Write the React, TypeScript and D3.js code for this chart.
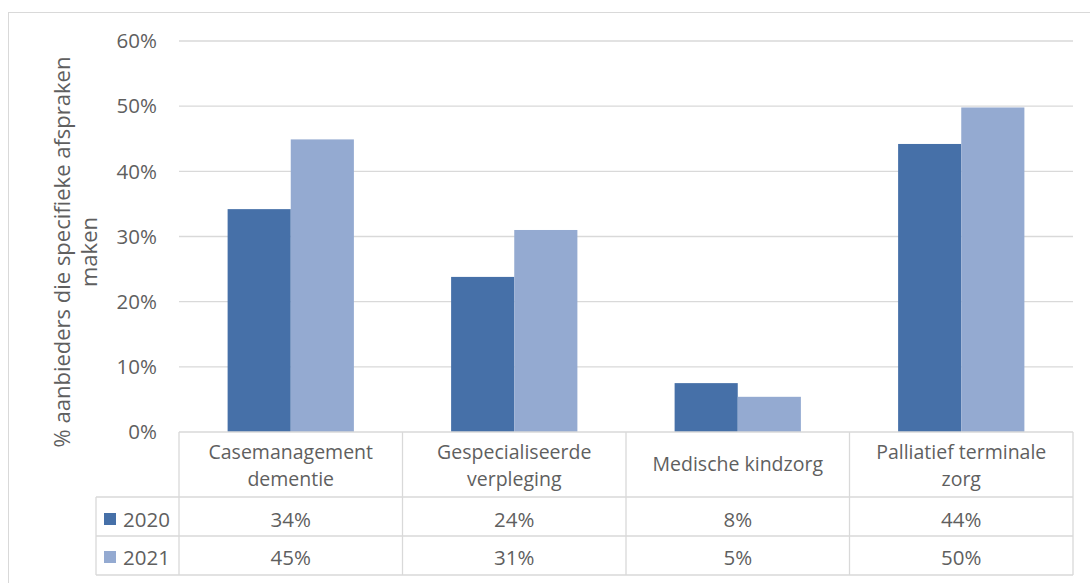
import React from 'react';
import * as d3 from 'd3';

// categories as shown in the table header (line breaks as in the source)
const categories = [
  'Casemanagement dementie',
  'Gespecialiseerde verpleging',
  'Medische kindzorg',
  'Palliatief terminale zorg',
];
const categoryLines = [
  ['Casemanagement', 'dementie'],
  ['Gespecialiseerde', 'verpleging'],
  ['Medische kindzorg'],
  ['Palliatief terminale', 'zorg'],
];
const years = ['2020', '2021'];
const values2020 = [34.2, 23.8, 7.5, 44.2];
const values2021 = [44.9, 31.0, 5.4, 49.8];
const yTicks = [0, 10, 20, 30, 40, 50, 60];
const axisTitle = ['% aanbieders die specifieke afspraken', 'maken'];

const colors = ['#4670a8', '#94aad1'];
const font = '"Open Sans", sans-serif';
const textColor = '#5f5f5f';
const lineColor = '#d9d9d9';

export default function App() {
  const W = 1090;
  const H = 583;
  const left = 179;
  const right = 1073;
  const zeroY = 432;
  const topY = 41;
  const tableLeft = 96;
  const rowLines = [zeroY, 497, 536, 575];
  const fs = 20.5;
  const headFs = 19.5;

  const series = [values2020, values2021];

  const y = d3.scaleLinear().domain([0, 60]).range([zeroY, topY]);
  const x0 = d3.scaleBand().domain(categories).range([left, right]).paddingInner(0).paddingOuter(0);
  const x1 = d3.scaleBand().domain(years).range([0, x0.bandwidth()]).paddingInner(0).paddingOuter(0.77);
  const fmt = (v: number) => `${Math.round(v)}%`;

  return (
    <svg width={W} height={H} style={{ position: 'absolute', left: 0, top: 0, background: '#fff' }}
      fontFamily={font}>
      <rect x={8.5} y={12.5} width={1100} height={600} fill="#fff" stroke="#d9d9d9" />

      {/* gridlines + tick labels */}
      {yTicks.map(t => (
        <g key={t}>
          {t > 0 && (
            <line x1={left} x2={right} y1={y(t)} y2={y(t)} stroke={lineColor} strokeWidth={1.3} />
          )}
          <text x={157} y={y(t)} dy="0.35em" textAnchor="end" fontSize={fs} fill={textColor}>
            {t}%
          </text>
        </g>
      ))}

      {/* bars */}
      {categories.map((c, i) => (
        <g key={c} transform={`translate(${x0(c)},0)`}>
          {years.map((yr, j) => (
            <rect key={yr} x={x1(yr)} y={y(series[j][i])} width={x1.bandwidth()}
              height={zeroY - y(series[j][i])} fill={colors[j]} />
          ))}
        </g>
      ))}

      {/* axis title */}
      <text transform="translate(70,252) rotate(-90)" textAnchor="middle" fontSize={22} fill={textColor}>
        <tspan x={0} y={0}>{axisTitle[0]}</tspan>
        <tspan x={0} y={27}>{axisTitle[1]}</tspan>
      </text>

      {/* data table */}
      <g stroke={lineColor} strokeWidth={1.3}>
        <line x1={left} x2={right} y1={rowLines[0]} y2={rowLines[0]} />
        {rowLines.slice(1).map(r => (
          <line key={r} x1={tableLeft} x2={right} y1={r} y2={r} />
        ))}
        <line x1={tableLeft} x2={tableLeft} y1={rowLines[1]} y2={rowLines[3]} />
        {categories.map(c => (
          <line key={c} x1={x0(c)} x2={x0(c)} y1={rowLines[0]} y2={rowLines[3]} />
        ))}
        <line x1={right} x2={right} y1={rowLines[0]} y2={rowLines[3]} />
      </g>

      {categories.map((c, i) => {
        const cx = (x0(c) as number) + x0.bandwidth() / 2;
        const lines = categoryLines[i];
        return lines.map((l, k) => (
          <text key={c + k} x={cx} y={lines.length === 1 ? 471 : 459 + k * 26.5} textAnchor="middle"
            fontSize={headFs} fill={textColor}>
            {l}
          </text>
        ));
      })}

      {years.map((yr, j) => {
        const base = [527, 565][j];
        return (
          <g key={yr}>
            <rect x={104} y={base - 14} width={12} height={12} fill={colors[j]} />
            <text x={123} y={base} fontSize={fs} fill={textColor}>{yr}</text>
            {categories.map((c, i) => (
              <text key={c} x={(x0(c) as number) + x0.bandwidth() / 2} y={base} textAnchor="middle"
                fontSize={fs} fill={textColor}>
                {fmt(series[j][i])}
              </text>
            ))}
          </g>
        );
      })}
    </svg>
  );
}
